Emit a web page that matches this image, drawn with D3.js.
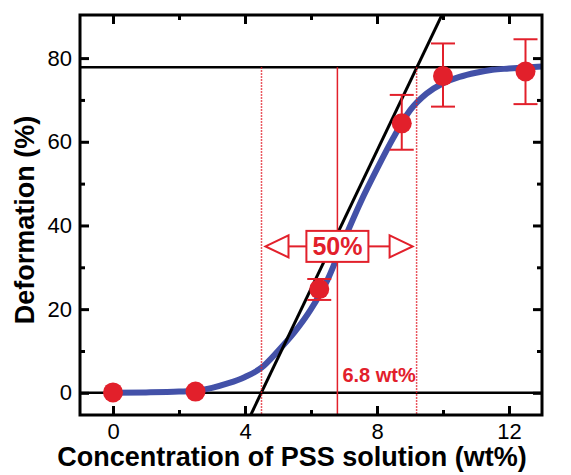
<!DOCTYPE html>
<html>
<head>
<meta charset="utf-8">
<script src="https://cdn.jsdelivr.net/npm/d3@7"></script>
<style>
  body { margin: 0; background: #fff; }
  text { font-family: "Liberation Sans", Arial, sans-serif; }
</style>
</head>
<body>
<svg width="571" height="475"></svg>
<script>
// Measured points (wt%, deformation %) with error bars
const concentrations = [0, 2.5, 6.25, 8.75, 10, 12.5];
const deformation = [0.1, 0.3, 24.8, 64.4, 75.7, 76.8];
const errLow = [0.1, 0.3, 22.2, 58.1, 68.4, 69.0];
const errHigh = [0.1, 0.3, 27.2, 71.2, 83.5, 84.5];

// Fitted curve
const fitX = [0, 1, 2, 2.5, 3, 3.5, 4, 4.5, 5, 5.5, 6, 6.5, 7, 7.5, 8, 8.5, 9, 9.5, 10, 10.5, 11, 11.5, 12, 13];
const fitY = [0, 0.1, 0.3, 0.5, 1.2, 2.3, 3.8, 6, 10, 14.5, 20, 27, 36.5, 45.5, 53.5, 61, 67.5, 71.5, 74, 75.5, 76.5, 77.2, 77.5, 78];

// Tangent line at the midpoint, plateau and markers
const tangentX = [4.1, 10.1];
const tangentY = [-6.5, 92.5];
const plateau = 77.8;
const midpoint = 6.8;
const halfRange = [4.5, 9.2];

const xTicks = [0, 4, 8, 12];
const xMinor = [2, 6, 10];
const yTicks = [0, 20, 40, 60, 80];
const yMinor = [10, 30, 50, 70];

const red = "#e2202b";
const blue = "#4351a8";

const svg = d3.select("svg");
const margin = { left: 80, right: 29, top: 15, bottom: 60 };
const width = 571 - margin.left - margin.right,
  height = 475 - margin.top - margin.bottom;

const x = d3.scaleLinear().domain([-1, 13]).range([0, width]);
const y = d3.scaleLinear().domain([-5.3, 90.3]).range([height, 0]);

const g = svg.append("g").attr("transform", `translate(${margin.left},${margin.top})`);

g.append("clipPath").attr("id", "plot")
  .append("rect").attr("width", width).attr("height", height);

const plot = g.append("g").attr("clip-path", "url(#plot)");

// Horizontal reference lines at 0 and at the plateau
plot.selectAll(".hline")
  .data([0, plateau])
  .enter()
  .append("line")
  .attr("x1", 0).attr("x2", width)
  .attr("y1", (d) => y(d)).attr("y2", (d) => y(d))
  .attr("stroke", "#000").attr("stroke-width", 2.5);

// Fitted curve
const fit = fitX.map((v, i) => [v, fitY[i]]);
plot.append("path")
  .datum(fit)
  .attr("fill", "none")
  .attr("stroke", blue)
  .attr("stroke-width", 6)
  .attr("d", d3.line().x((d) => x(d[0])).y((d) => y(d[1])).curve(d3.curveMonotoneX));

// Tangent
plot.append("line")
  .attr("x1", x(tangentX[0])).attr("y1", y(tangentY[0]))
  .attr("x2", x(tangentX[1])).attr("y2", y(tangentY[1]))
  .attr("stroke", "#000").attr("stroke-width", 3);

// Red verticals
plot.selectAll(".vdot")
  .data(halfRange)
  .enter()
  .append("line")
  .attr("x1", (d) => x(d)).attr("x2", (d) => x(d))
  .attr("y1", y(plateau)).attr("y2", height)
  .attr("stroke", red).attr("stroke-width", 1.5)
  .attr("stroke-dasharray", "1.5,1.5");

plot.append("line")
  .attr("x1", x(midpoint)).attr("x2", x(midpoint))
  .attr("y1", y(plateau)).attr("y2", height)
  .attr("stroke", red).attr("stroke-width", 1.5);

// Error bars
const pts = concentrations.map((c, i) => ({ c, v: deformation[i], lo: errLow[i], hi: errHigh[i] }));
const err = plot.append("g").attr("stroke", red).attr("stroke-width", 2);
pts.filter((d) => d.hi - d.lo > 1).forEach((d) => {
  err.append("line").attr("x1", x(d.c)).attr("x2", x(d.c)).attr("y1", y(d.lo)).attr("y2", y(d.hi));
  err.append("line").attr("x1", x(d.c) - 12).attr("x2", x(d.c) + 12).attr("y1", y(d.lo)).attr("y2", y(d.lo));
  err.append("line").attr("x1", x(d.c) - 12).attr("x2", x(d.c) + 12).attr("y1", y(d.hi)).attr("y2", y(d.hi));
});

// Points
plot.selectAll("circle")
  .data(pts)
  .enter()
  .append("circle")
  .attr("cx", (d) => x(d.c))
  .attr("cy", (d) => y(d.v))
  .attr("r", 10)
  .attr("fill", red);

// 50% annotation with double arrow
const ay = y(35), cx = x(midpoint);
const ann = g.append("g").attr("stroke", red).attr("stroke-width", 2).attr("fill", "#fff");
const tipL = x(halfRange[0]) + 4, tipR = x(halfRange[1]) - 4;
ann.append("line").attr("x1", tipL + 22).attr("x2", cx - 31).attr("y1", ay).attr("y2", ay);
ann.append("line").attr("x1", cx + 31).attr("x2", tipR - 22).attr("y1", ay).attr("y2", ay);
ann.append("path").attr("d", `M${tipL},${ay}L${tipL + 23},${ay - 11}L${tipL + 23},${ay + 11}Z`);
ann.append("path").attr("d", `M${tipR},${ay}L${tipR - 23},${ay - 11}L${tipR - 23},${ay + 11}Z`);
ann.append("rect").attr("x", cx - 31).attr("y", ay - 15.5).attr("width", 62).attr("height", 31);
g.append("text")
  .attr("x", cx).attr("y", ay + 8.5)
  .attr("text-anchor", "middle")
  .attr("font-size", 25).attr("font-weight", "bold")
  .attr("fill", red)
  .text("50%");

g.append("text")
  .attr("x", x(midpoint) + 5).attr("y", y(2.6))
  .attr("font-size", 20).attr("font-weight", "bold")
  .attr("fill", red)
  .text("6.8 wt%");

// Axes, ticks pointing inward
function styleAxis(sel) {
  sel.select(".domain").remove();
  sel.selectAll(".tick line").attr("stroke", "#000").attr("stroke-width", 3);
  sel.selectAll(".tick text").attr("font-size", 22).attr("fill", "#000");
}

g.append("g").attr("transform", `translate(0,${height})`)
  .call(d3.axisBottom(x).tickValues(xTicks).tickSizeInner(-9).tickSizeOuter(0).tickPadding(8))
  .call(styleAxis);
g.append("g").attr("transform", `translate(0,${height})`)
  .call(d3.axisBottom(x).tickValues(xMinor).tickSizeInner(-5).tickSizeOuter(0).tickFormat(""))
  .call(styleAxis);
g.append("g")
  .call(d3.axisTop(x).tickValues(xTicks).tickSizeInner(-9).tickSizeOuter(0).tickFormat(""))
  .call(styleAxis);
g.append("g")
  .call(d3.axisTop(x).tickValues(xMinor).tickSizeInner(-5).tickSizeOuter(0).tickFormat(""))
  .call(styleAxis);

g.append("g")
  .call(d3.axisLeft(y).tickValues(yTicks).tickSizeInner(-9).tickSizeOuter(0).tickPadding(8))
  .call(styleAxis);
g.append("g")
  .call(d3.axisLeft(y).tickValues(yMinor).tickSizeInner(-5).tickSizeOuter(0).tickFormat(""))
  .call(styleAxis);
g.append("g").attr("transform", `translate(${width},0)`)
  .call(d3.axisRight(y).tickValues(yTicks).tickSizeInner(-9).tickSizeOuter(0).tickFormat(""))
  .call(styleAxis);
g.append("g").attr("transform", `translate(${width},0)`)
  .call(d3.axisRight(y).tickValues(yMinor).tickSizeInner(-5).tickSizeOuter(0).tickFormat(""))
  .call(styleAxis);

// Frame
g.append("rect")
  .attr("width", width).attr("height", height)
  .attr("fill", "none").attr("stroke", "#000").attr("stroke-width", 3);

// Axis titles
svg.append("text")
  .attr("x", 292).attr("y", 466)
  .attr("text-anchor", "middle")
  .attr("font-size", 27).attr("font-weight", "bold")
  .text("Concentration of PSS solution (wt%)");

svg.append("text")
  .attr("transform", `translate(34,220) rotate(-90)`)
  .attr("text-anchor", "middle")
  .attr("font-size", 27).attr("font-weight", "bold")
  .text("Deformation (%)");
</script>
</body>
</html>
